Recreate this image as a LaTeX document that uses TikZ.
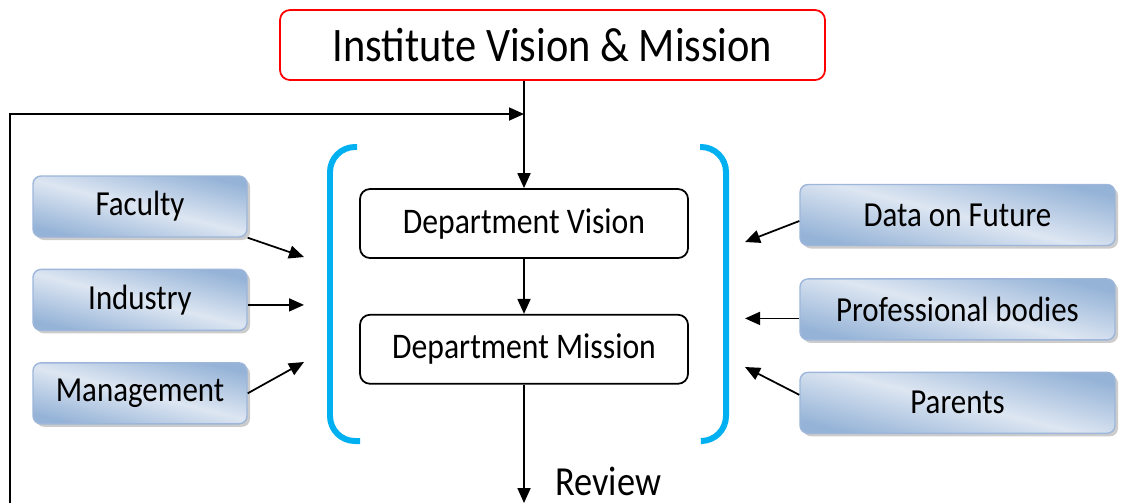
\documentclass[tikz,border=0pt]{standalone}
\usepackage{fontspec}
\setmainfont{Carlito}[FakeStretch=0.88]
\usetikzlibrary{arrows.meta,positioning,shadows}
\definecolor{bracketblue}{HTML}{00B0F0}
\definecolor{boxdark}{HTML}{95B3D7}
\definecolor{boxlight}{HTML}{DDE6F2}
\definecolor{boxedge}{HTML}{9DB6DA}

\begin{document}
\begin{tikzpicture}[
		>={Triangle[length=0.3cm,width=0.26cm]},
		node distance=0.62cm,
		line/.style={line width=1pt},
		topbox/.style={
			draw=red,
			line width=1pt,
			rounded corners=0.2cm,
			fill=white,
			minimum width=10.9cm,
			minimum height=1.4cm,
			font=\fontsize{27.4}{32}\selectfont
		},
		deptbox/.style={
			draw,
			line width=1pt,
			rounded corners=0.2cm,
			minimum width=6.56cm,
			minimum height=1.38cm,
			font=\fontsize{20.5}{24}\selectfont
		},
		inputbox/.style={
			draw=boxedge,
			line width=0.8pt,
			rounded corners=0.16cm,
			top color=boxdark,
			bottom color=boxdark,
			middle color=boxlight,
			shading angle=-14,
			drop shadow={shadow xshift=0.06cm, shadow yshift=-0.06cm, fill=black!40},
			minimum height=1.22cm,
			font=\fontsize{20}{24}\selectfont
		},
		bracket/.style={
			draw=bracketblue,
			line width=3.4pt,
			rounded corners=0.5cm
		}
		]
		\useasboundingbox (0,0) rectangle (22.44,-10.06);
		
		% Institute box on top
		\node[topbox] (inst) at (11.05,-0.9) {Institute Vision \& Mission};
		
		% Department vision and mission in the middle
		\node[deptbox] (vis) at (10.48,-4.47) {Department Vision};
		\node[deptbox, below=1.1cm of vis] (mis) {Department Mission};
		
		% Inputs on the left
		\node[inputbox, minimum width=4.28cm] (fac) at (2.8,-4.13) {Faculty};
		\node[inputbox, minimum width=4.28cm, below=of fac] (ind) {Industry};
		\node[inputbox, minimum width=4.28cm, below=of ind] (man) {Management};
		
		% Inputs on the right
		\node[inputbox, minimum width=6.3cm] (dat) at (19.15,-4.3) {Data on Future};
		\node[inputbox, minimum width=6.3cm, below=0.64cm of dat] (pro) {Professional bodies};
		\node[inputbox, minimum width=6.3cm, below=of pro] (par) {Parents};
		
		% Brackets round the department boxes
		\draw[bracket] (7.14,-2.94) -| (6.6,-8.82) -- (7.2,-8.82);
		\draw[bracket] (14.0,-2.94) -| (14.52,-8.82) -- (14.06,-8.82);
		
		% Arrow ends at the brackets
		\coordinate (lin1) at (6.08,-5.14);
		\coordinate (lin3) at (6.08,-7.24);
		\coordinate (rin1) at (14.9,-4.84);
		\coordinate (rin3) at (14.9,-7.34);
		\coordinate (lx) at (6.08,0);
		\coordinate (rx) at (14.9,0);
		
		% Arrows from the inputs
		\draw[->, line] (fac.south east) -- (lin1);
		\draw[->, line] ([yshift=-0.1cm]ind.east) -- ([yshift=-0.1cm]ind.east -| lx);
		\draw[->, line] (man.east) -- (lin3);
		\draw[->, line] ([yshift=-0.12cm]dat.west) -- (rin1);
		\draw[->, line] ([yshift=-0.18cm]pro.west) -- ([yshift=-0.18cm]pro.west -| rx);
		\draw[->, line] ([yshift=0.16cm]par.west) -- (rin3);
		
		% Main flow
		\draw[->, line] (vis.north |- inst.south) -- (vis.north);
		\draw[->, line] (vis) -- (mis);
		\coordinate (rev) at (10.48,-10.06);
		\draw[->, line] (mis) -- (rev);
		\node[anchor=base west, inner sep=0pt, font=\fontsize{23.5}{28}\selectfont] (review) at (11.1,-9.9) {Review};
		
		% Feedback back to the top
		\coordinate (fb) at (0.2,-10.06);
		\coordinate (join) at (0,-2.28);
		\draw[->, line] (fb) |- (vis.north |- join);
		
\end{tikzpicture}
\end{document}
